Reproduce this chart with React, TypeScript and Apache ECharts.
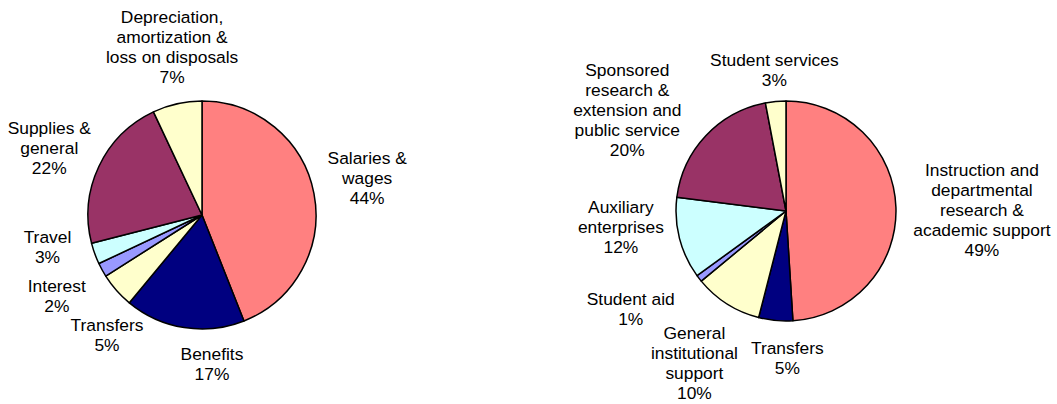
import React, { useEffect, useRef } from "react";
import * as echarts from "echarts";

// Left pie: expenses by natural classification
const leftCategories = [
  "Salaries &\nwages",
  "Benefits",
  "Transfers",
  "Interest",
  "Travel",
  "Supplies &\ngeneral",
  "Depreciation,\namortization &\nloss on disposals",
];
const leftValues = [44, 17, 5, 2, 3, 22, 7];

// Right pie: expenses by function
const rightCategories = [
  "Instruction and\ndepartmental\nresearch &\nacademic support",
  "Transfers",
  "General\ninstitutional\nsupport",
  "Student aid",
  "Auxiliary\nenterprises",
  "Sponsored\nresearch &\nextension and\npublic service",
  "Student services",
];
const rightValues = [49, 5, 10, 1, 12, 20, 3];

const sliceColors = ["#FF8080", "#000080", "#FFFFCC", "#9999FF", "#CCFFFF", "#993366", "#FFFFCC"];

// label nudges (px) from the default polar label spot
const leftNudges = [[8, -7], [35, -9], [25, 14], [-5, 4], [-4, -22], [-8, 1], [5, -12]];
const rightNudges = [[40, 4], [16, -8], [-8, 20], [-32, 2], [-14, -23], [-45, 6], [3, 14]];

const pies = [
  { center: [202, 215], radius: 114, names: leftCategories, values: leftValues, nudges: leftNudges },
  { center: [786, 211], radius: 110, names: rightCategories, values: rightValues, nudges: rightNudges },
];

export default function App() {
  const ref = useRef<HTMLDivElement>(null);
  useEffect(() => {
    if (!ref.current) return;
    const chart = echarts.init(ref.current, null, { renderer: "svg" });
    const series = pies.map((p) => {
      const total = p.values.reduce((a, b) => a + b, 0);
      const mids: number[] = [];
      let cum = 0;
      p.values.forEach((v) => {
        mids.push(((cum + v / 2) / total) * Math.PI * 2);
        cum += v;
      });
      return {
        type: "pie",
        center: p.center,
        radius: p.radius,
        startAngle: 90,
        clockwise: true,
        avoidLabelOverlap: false,
        data: p.names.map((n, i) => ({
          name: n,
          value: p.values[i],
          itemStyle: { color: sliceColors[i] },
        })),
        itemStyle: { borderColor: "#000", borderWidth: 1.5 },
        label: {
          show: true,
          position: "outside",
          formatter: (q: any) => `${q.name}\n${q.value}%`,
          color: "#000",
          fontSize: 17.4,
          lineHeight: 20,
          fontFamily: "Liberation Sans, Arial, sans-serif",
          align: "center",
        },
        labelLine: { show: false },
        emphasis: { disabled: true },
        labelLayout: (params: any) => {
          const i = params.dataIndex;
          const d = p.radius + 46;
          const m = mids[i];
          const x = p.center[0] + d * Math.sin(m) + p.nudges[i][0];
          const y = p.center[1] - d * Math.cos(m) + p.nudges[i][1];
          return { x, y, align: "center", verticalAlign: "middle" };
        },
      };
    });
    chart.setOption({
      animation: false,
      backgroundColor: "#fff",
      series,
    });
    return () => chart.dispose();
  }, []);
  return (
    <div
      ref={ref}
      style={{ position: "fixed", left: 0, top: 0, width: 1057, height: 404 }}
    />
  );
}
